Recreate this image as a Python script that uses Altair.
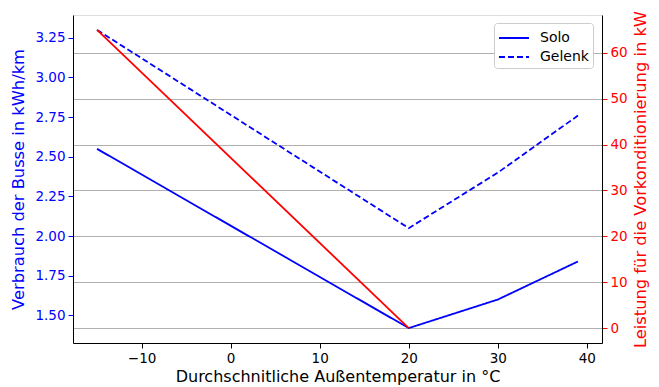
import altair as alt
import pandas as pd

temps = [-15, 20, 30, 39]
solo = [2.55, 1.42, 1.60, 1.84]
gelenk = [3.30, 2.05, 2.40, 2.76]
heat_temps = [-15, 20]
heat_kw = [65, 0]
series = ["Solo", "Gelenk"]

rows = []
for t, v in zip(temps, solo):
    rows.append({"t": t, "v": v, "s": "Solo"})
for t, v in zip(temps, gelenk):
    rows.append({"t": t, "v": v, "s": "Gelenk"})
bus = pd.DataFrame(rows)
heat = pd.DataFrame({"t": heat_temps, "kw": heat_kw})

FONT = "DejaVu Sans"
xscale = alt.Scale(domain=[-17.7, 41.7], nice=False, zero=False)
xaxis = alt.Axis(values=[-10, 0, 10, 20, 30, 40], title="Durchschnitliche Außentemperatur in °C",
                 grid=False, domainColor="black", tickColor="black", labelColor="black",
                 labelFontSize=13.5, titleFontSize=16, titleFontWeight="normal", labelFont=FONT,
                 titleFont=FONT, titleColor="black", tickSize=5, labelPadding=3, titlePadding=4)

blue = alt.Chart(bus).mark_line(color="blue", strokeWidth=1.8).encode(
    x=alt.X("t:Q", scale=xscale, axis=xaxis),
    y=alt.Y("v:Q", scale=alt.Scale(domain=[1.326, 3.394], nice=False, zero=False),
            axis=alt.Axis(values=[1.5, 1.75, 2.0, 2.25, 2.5, 2.75, 3.0, 3.25], format=".2f",
                          title="Verbrauch der Busse in kWh/km", grid=False, orient="left",
                          domainColor="black", tickColor="blue", labelColor="blue", titleColor="blue",
                          labelFontSize=13.5, titleFontSize=16.3, titleFontWeight="normal",
                          labelFont=FONT, titleFont=FONT, tickSize=5, labelPadding=3, titlePadding=8)),
    strokeDash=alt.StrokeDash("s:N", scale=alt.Scale(domain=series, range=[[1, 0], [6, 3]]),
                              legend=alt.Legend(title=None, orient="none", legendX=421, legendY=8,
                                                symbolType="M-1,0H2", symbolStrokeColor="blue",
                                                symbolStrokeWidth=1.8, symbolSize=400,
                                                labelFontSize=14, labelFont=FONT, labelColor="black",
                                                labelOffset=20,
                                                fillColor="white", strokeColor="#cccccc", padding=4,
                                                cornerRadius=3, rowPadding=1)),
    detail="s:N",
)

red = alt.Chart(heat).mark_line(color="red", strokeWidth=1.8).encode(
    x=alt.X("t:Q", scale=xscale, axis=xaxis),
    y=alt.Y("kw:Q", scale=alt.Scale(domain=[-3.25, 68.25], nice=False, zero=False),
            axis=alt.Axis(values=[0, 10, 20, 30, 40, 50, 60], title="Leistung für die Vorkonditionierung in kW",
                          grid=True, gridColor="#b0b0b0", gridWidth=1, orient="right",
                          domainColor="black", tickColor="red", labelColor="red", titleColor="red",
                          labelFontSize=13.5, titleFontSize=16.3, titleFontWeight="normal",
                          titleAngle=270, titleBaseline="middle", titleAlign="center",
                          titleX=38, titleY=164,
                          labelFont=FONT, titleFont=FONT, tickSize=5, labelPadding=3)),
)

chart = alt.layer(blue, red).resolve_scale(y="independent").properties(
    width=529, height=328,
    autosize=alt.AutoSizeParams(type="none"),
    padding={"left": 65, "top": 7, "right": 49, "bottom": 44},
).configure_view(stroke="black", strokeWidth=1.2).configure(background="white")

chart.save("out.html", embed_options={"renderer": "svg", "actions": False})
